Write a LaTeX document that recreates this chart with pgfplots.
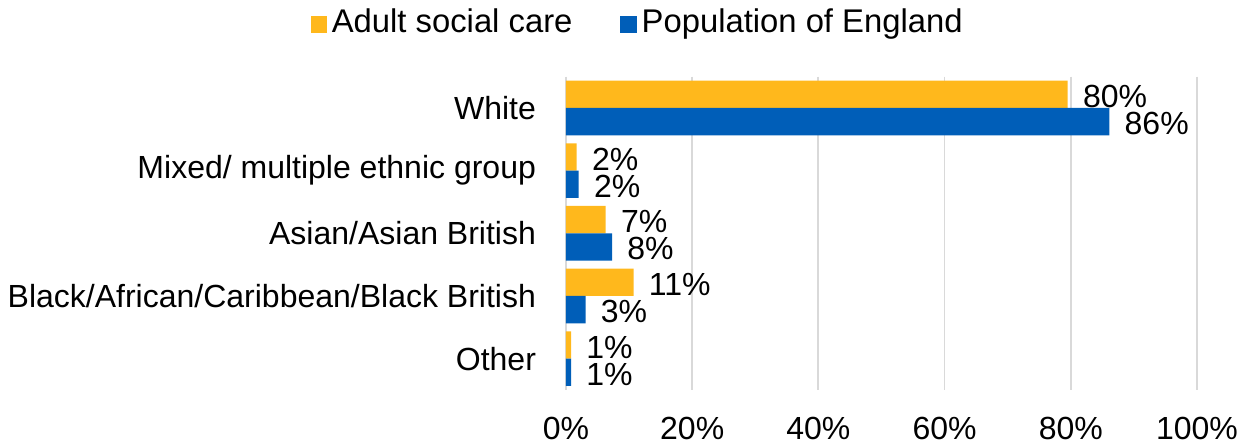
\documentclass[border=0pt]{standalone}
\usepackage{pgfplots}
\pgfplotsset{compat=1.18}
\usepackage{pgfplotstable}
\usepackage{fontspec}
\setmainfont{Liberation Sans}
\definecolor{cyel}{HTML}{FFB81C}
\definecolor{cblue}{HTML}{005EB8}
\definecolor{cgrid}{HTML}{D9D9D9}
\pgfplotsset{sqlegend/.style={legend image code/.code={\fill[##1] (0pt,-0.3pt) rectangle (8.3pt,8pt);}}}
\pgfplotstableread{
x y lab
79.5 -0.218 80
1.7 0.782 2
6.3 1.782 7
10.7 2.782 11
0.8 3.782 1
}\adult
\pgfplotstableread{
x y lab
86.1 0.218 86
2.0 1.218 2
7.3 2.218 8
3.1 3.218 3
0.8 4.218 1
}\pop
\begin{document}
\begin{tikzpicture}[font=\fontsize{16}{19}\selectfont]
\begin{axis}[
 scale only axis, width=315.5pt, height=156.7pt,
 xbar, bar width=0.436, bar shift=0pt,
 xmin=0, xmax=100, ymin=-0.5, ymax=4.5, y dir=reverse,
 xtick={0,20,...,100}, ytick={0,...,4},
 yticklabels={White, Mixed/ multiple ethnic group, Asian/Asian British, Black/African/Caribbean/Black British, Other},
 xticklabel={\pgfmathprintnumber{\tick}\%},
 /pgf/number format/assume math mode=true,
 xmajorgrids, grid style={cgrid, line width=0.9pt},
 axis line style={draw=none}, major tick length=0pt,
 xticklabel style={yshift=-10pt},
 yticklabel style={xshift=-11.5pt},
 point meta=explicit symbolic,
 nodes near coords={\pgfplotspointmeta\%},
 nodes near coords style={anchor=west, inner sep=0pt, xshift=7.5pt, yshift=-1pt, black},
 legend style={at={(axis description cs:0.112,1.175)}, anchor=center, draw=none, legend columns=2,
   font=\fontsize{16.4}{19}\selectfont,
   nodes={inner sep=0pt, anchor=base west},
   /tikz/every odd column/.append style={column sep=2.3pt},
   /tikz/every even column/.append style={column sep=24pt}, inner sep=0pt},
]
\addplot[fill=cyel, draw=none, sqlegend] table[x=x,y=y,meta=lab]{\adult};
\addplot[fill=cblue, draw=none, sqlegend] table[x=x,y=y,meta=lab]{\pop};
\legend{Adult social care, Population of England}
\end{axis}
\pgfresetboundingbox
\path (-283pt,-28pt) rectangle (341pt,195pt);
\end{tikzpicture}
\end{document}
